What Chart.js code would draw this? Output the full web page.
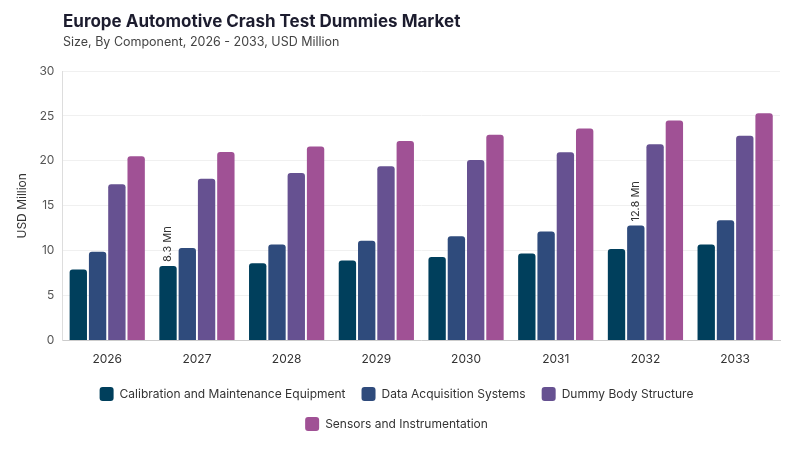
<!DOCTYPE html>
<html>
<head>
<meta charset="utf-8">
<script src="https://cdn.jsdelivr.net/npm/chart.js@4"></script>
<style>
  body { margin: 0; background: #fff; font-family: Inter, "Noto Sans", sans-serif; }
  #wrap { position: relative; width: 800px; height: 450px; }
  #title { position: absolute; left: 63px; top: 11px; font-size: 17px; font-weight: 700; color: #1c1c2e; }
  #subtitle { position: absolute; left: 63px; top: 34px; font-size: 12.5px; color: #444; }
</style>
</head>
<body>
<div id="wrap">
  <canvas id="chart" width="800" height="450"></canvas>
  <div id="title">Europe Automotive Crash Test Dummies Market</div>
  <div id="subtitle">Size, By Component, 2026 - 2033, USD Million</div>
</div>
<script>
var years = ['2026', '2027', '2028', '2029', '2030', '2031', '2032', '2033'];

var calibration = [7.9, 8.3, 8.6, 8.9, 9.3, 9.7, 10.2, 10.7];
var dataAcquisition = [9.9, 10.3, 10.7, 11.1, 11.6, 12.15, 12.8, 13.4];
var bodyStructure = [17.4, 18.0, 18.65, 19.4, 20.1, 20.95, 21.85, 22.8];
var sensors = [20.5, 21.0, 21.6, 22.2, 22.9, 23.6, 24.5, 25.3];

var seriesNames = ['Calibration and Maintenance Equipment', 'Data Acquisition Systems', 'Dummy Body Structure', 'Sensors and Instrumentation'];
var seriesColors = ['#003f5c', '#2f4b7c', '#665191', '#a05195'];

// which bars get a value label: [dataset, index]
var labelled = [[0, 1], [1, 6]];

/* Vertical value labels above selected bars */
var barLabels = {
    id: 'barLabels',
    afterDatasetsDraw: function(chart) {
        var ctx = chart.ctx;
        ctx.save();
        ctx.font = '11px Inter, "Noto Sans", sans-serif';
        ctx.fillStyle = '#333';
        ctx.textAlign = 'left';
        ctx.textBaseline = 'middle';
        labelled.forEach(function(l) {
            var bar = chart.getDatasetMeta(l[0]).data[l[1]];
            var value = chart.data.datasets[l[0]].data[l[1]];
            ctx.save();
            ctx.translate(bar.x, bar.y - 4);
            ctx.rotate(-Math.PI / 2);
            ctx.fillText(value.toFixed(1) + ' Mn', 0, 0);
            ctx.restore();
        });
        ctx.restore();
    }
};

var allSeries = [calibration, dataAcquisition, bodyStructure, sensors];
var datasets = allSeries.map(function(d, i) {
    return {
        label: seriesNames[i],
        data: d,
        backgroundColor: seriesColors[i],
        borderRadius: { topLeft: 3, topRight: 3 },
        borderSkipped: 'bottom',
        barPercentage: 0.9,
        categoryPercentage: 0.86
    };
});

var ctx = document.getElementById('chart').getContext('2d');
var chart = new Chart(ctx, {
    type: 'bar',
    data: { labels: years, datasets: datasets },
    plugins: [barLabels],
    options: {
        responsive: false,
        animation: false,
        layout: { padding: { top: 71, left: 13, right: 20, bottom: 9 } },
        scales: {
            x: {
                grid: { display: false },
                border: { color: '#ccc' },
                ticks: { color: '#333', font: { family: 'Inter', size: 12 }, padding: 4 }
            },
            y: {
                min: 0,
                max: 30,
                ticks: { stepSize: 5, color: '#555', font: { family: 'Inter', size: 12 }, padding: 8 },
                grid: { color: '#f0f0f0', drawTicks: false },
                border: { color: '#ddd' },
                title: { display: true, text: 'USD Million', color: '#333', font: { family: 'Inter', size: 12 }, padding: 2 }
            }
        },
        plugins: {
            legend: {
                position: 'bottom',
                labels: {
                    color: '#333',
                    font: { family: 'Inter', size: 12 },
                    boxWidth: 14,
                    boxHeight: 14,
                    useBorderRadius: true,
                    borderRadius: 3,
                    padding: 16
                }
            },
            tooltip: { enabled: false }
        }
    }
});
</script>
</body>
</html>
